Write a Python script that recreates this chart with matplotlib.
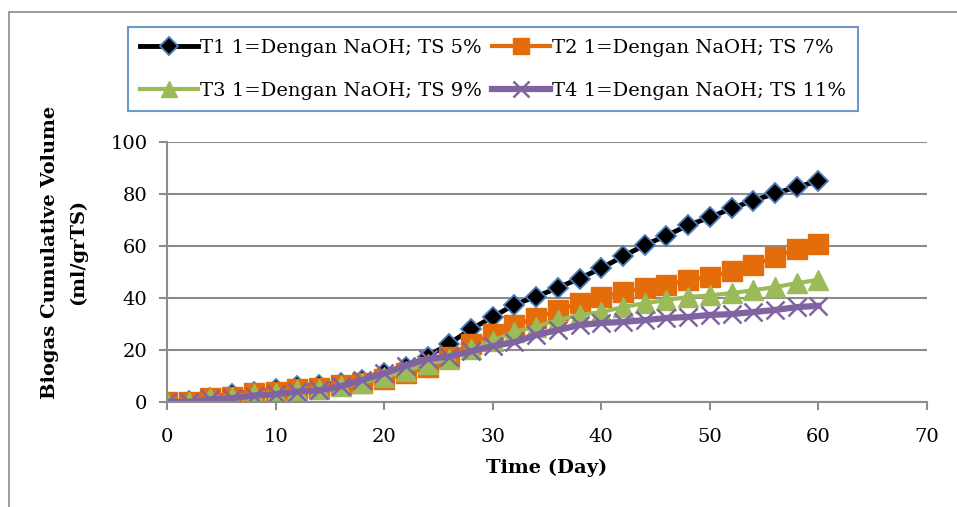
import matplotlib
matplotlib.use("Agg")
import matplotlib.pyplot as plt
from matplotlib.patches import Rectangle

# Data
days = list(range(0, 61, 2))
t1 = [0, 0.5, 1.5, 3, 4, 5, 6, 6.5, 7.5, 8.5, 11, 13.5, 17.5, 22.5, 28, 32.7,
      37.5, 40.5, 44, 47.5, 51.5, 56, 60.4, 64, 68, 71, 74.5, 77.5, 80.2, 82.7, 85]
t2 = [0, 0, 1.5, 2, 3.5, 4, 5, 5.5, 6.5, 7.5, 9, 11, 13.5, 17.5, 22.5, 26,
      29.6, 32.3, 35.2, 38, 40.4, 42.3, 43.8, 45, 47, 48, 50.4, 52.7, 55.8, 58.8, 60.8]
t3 = [0, 0, 1.5, 2, 3, 3.5, 4.5, 5, 6, 7.5, 9.5, 12, 14.5, 16.5, 20.5, 23.5,
      27, 29, 31.5, 33.5, 34.6, 36.5, 38, 39.2, 40.4, 41, 41.9, 43, 44.2, 45.7, 47]
t4 = [0, 0, 1, 1.5, 2.5, 3, 4, 4.5, 6, 8.5, 11, 14, 16.5, 17.5, 19.5, 21.5,
      23, 25.8, 27.7, 29.6, 30.4, 30.8, 31.5, 32.3, 32.7, 33.5, 33.8, 34.6, 35.4, 36.5, 37]
labels = ["T1 1=Dengan NaOH; TS 5%", "T2 1=Dengan NaOH; TS 7%",
          "T3 1=Dengan NaOH; TS 9%", "T4 1=Dengan NaOH; TS 11%"]

plt.rcParams["font.family"] = ["DejaVu Serif"]

fig = plt.figure(figsize=(9.57, 5.07), dpi=100)
ax = fig.add_axes([0.1745, 0.2071, 0.7942, 0.5128])

# outer chart border
fig.patches.append(Rectangle((0.009, -0.05), 1.2, 1.026, transform=fig.transFigure,
                             fill=False, edgecolor="#8c8c8c", linewidth=1.2))

grid_c = "#8c8c8c"
l1, = ax.plot(days, t1, color="black", lw=3.5, marker="D", markersize=10.5,
              markerfacecolor="black", markeredgecolor="#4a7ebb", markeredgewidth=1.3)
l2, = ax.plot(days, t2, color="#e46c0a", lw=3, marker="s", markersize=14,
              markerfacecolor="#e46c0a", markeredgecolor="#e46c0a")
l3, = ax.plot(days, t3, color="#9bbb59", lw=3, marker="^", markersize=14,
              markerfacecolor="#9bbb59", markeredgecolor="#9bbb59")
l4, = ax.plot(days, t4, color="#8064a2", lw=4.5, marker="x", markersize=13.5,
              markeredgewidth=1.8, markeredgecolor="#8064a2")

ax.set_xlim(0, 70)
ax.set_ylim(0, 100)
ax.set_xticks(range(0, 71, 10))
ax.set_yticks(range(0, 101, 20))
ax.yaxis.grid(True, color=grid_c, linewidth=1.5)
ax.set_axisbelow(True)
for s in ["top", "right"]:
    ax.spines[s].set_visible(False)
for s in ["left", "bottom"]:
    ax.spines[s].set_color(grid_c)
    ax.spines[s].set_linewidth(1.5)
ax.tick_params(axis="both", colors=grid_c, width=1.5, length=6, labelsize=14,
               labelcolor="black")
ax.tick_params(axis="x", pad=13)
ax.tick_params(axis="y", pad=8)

ax.set_xlabel("Time (Day)", fontsize=14, fontweight="bold", labelpad=9)
ax.set_ylabel("Biogas Cumulative Volume\n(ml/grTS)", fontsize=14, fontweight="bold",
              linespacing=1.7)
ax.yaxis.set_label_coords(-0.105, 0.577)

# row-major legend order like the original
leg = fig.legend([l1, l3, l2, l4], [labels[0], labels[2], labels[1], labels[3]],
                 ncol=2, loc="upper left", borderaxespad=0,
                 bbox_to_anchor=(0.134, 0.947), fontsize=14, frameon=True,
                 fancybox=False, handlelength=3.0, handletextpad=0.1,
                 columnspacing=0.5, borderpad=0.6, labelspacing=1.3, markerscale=0.85)
leg.get_frame().set_edgecolor("#4a7ebb")
leg.get_frame().set_linewidth(1.5)

fig.savefig("out.png", dpi=100)
